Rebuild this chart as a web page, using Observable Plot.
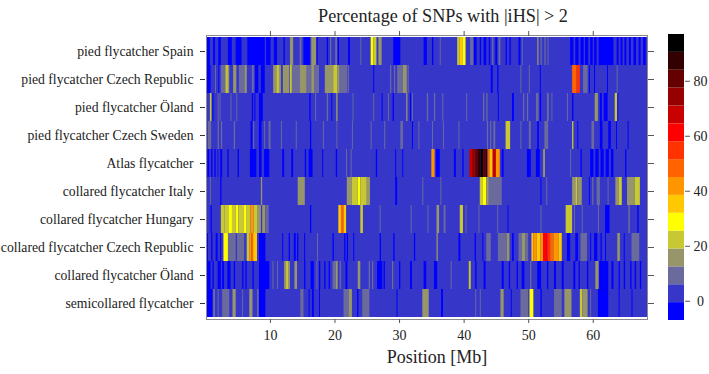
<!DOCTYPE html>
<html><head><meta charset="utf-8">
<script src="https://cdn.jsdelivr.net/npm/d3@7"></script>
<script src="https://cdn.jsdelivr.net/npm/@observablehq/plot@0.6"></script>
<style>
html,body{margin:0;padding:0;background:#fff}
#wrap{position:relative;width:709px;height:374px;overflow:hidden}
#wrap svg{position:absolute;top:0;background:transparent}
</style></head><body><div id="wrap"></div>
<script>
const rowNames = ["pied flycatcher Spain","pied flycatcher Czech Republic","pied flycatcher Öland","pied flycatcher Czech Sweden","Atlas flycatcher","collared flycatcher Italy","collared flycatcher Hungary","collared flycatcher Czech Republic","collared flycatcher Öland","semicollared flycatcher"];
const thresholds = [-0.5,6,12.5,19,25.5,32,38.5,45,51.5,58,64.5,71,77.5,84,90.5];
const palette = ["#0000ff","#3636c8","#6a6a9c","#96966a","#c8c832","#ffff00","#ffc800","#ff9600","#ff6400","#ff3200","#ff0000","#c80000","#960000","#640000","#320000","#000000"];
const legendValues = [-3,3,9,16,22,29,35,42,48,55,61,68,74,81,87,94];
const background = 3;
const xTicks = [10,20,30,40,50,60];
const legendTicks = [0,20,40,60,80];

const spain = [[0.1,0.2,-3],[0.2,0.7,-3],[1.2,1.5,-3],[2,2.4,-3],[3.5,4.1,-3],[4.7,5.6,-3],[6.5,9.2,-3],[9.4,10.1,-3],[10.6,11.1,-3],[12.1,12.3,-3],[13.1,13.6,16],[14.6,14.9,9],[15.2,16.2,-3],[16.4,17.2,16],[17.2,17.4,-3],[18.8,19,-3],[19.3,19.5,9],[20.1,20.4,9],[20.5,20.7,-3],[22.1,22.4,-3],[24,24.15,9],[25.6,26,29],[26,26.5,22],[26.8,27.3,16],[29.1,30.2,-3],[33.8,34.3,-3],[35.1,35.3,-3],[36.3,36.45,9],[39,39.4,22],[39.4,39.8,35],[39.8,40.3,29],[41,41.5,9],[41.6,42,-3],[42.5,42.7,-3],[43.1,43.5,-3],[43.9,44.1,-3],[44.4,44.6,9],[44.9,45.2,-3],[45.4,45.7,9],[46.5,46.7,-3],[47.1,47.3,-3],[48.5,48.8,-3],[49,49.15,9],[51.4,51.6,16],[51.9,52.1,9],[52.5,52.7,9],[53,53.15,9],[56.5,57,-3],[57.3,57.8,-3],[58.1,58.6,-3],[58.8,59.3,-3],[59.6,60,-3],[60.2,60.6,-3],[60.9,63.2,-3],[63.7,64,-3],[64.3,64.6,-3],[64.9,65.2,-3],[65.6,65.9,-3],[66.3,66.7,-3],[67.1,67.4,-3],[67.8,68.2,-3]];
const pied_czech = [[0.2,0.8,-3],[1.5,1.65,9],[2,2.15,-3],[2.4,3,9],[3,3.2,16],[3.2,3.5,22],[3.5,3.7,16],[4.3,4.8,16],[5.2,6.4,9],[6.1,6.4,16],[7.2,7.5,9],[7.7,8.2,-3],[8.6,9.2,-3],[10.5,11,16],[11,11.4,22],[11.4,11.7,16],[12,13,16],[13.1,13.4,22],[13.4,14.6,9],[14.6,15.7,16],[15.7,16.4,9],[16.4,16.9,16],[16.9,17.6,9],[18.5,19.8,16],[19.8,20.4,22],[20.4,20.8,16],[20.8,22,9],[22.1,22.25,9],[26,26.15,-3],[28.6,28.8,9],[29.2,29.4,9],[29.7,30.6,9],[30.6,31.2,16],[31.3,31.5,9],[44.2,44.5,-3],[45.2,45.4,-3],[48.8,48.95,9],[50.1,50.25,9],[51.8,51.95,-3],[56.8,57.5,48],[57.5,58,55],[58.5,59.2,9],[59.4,59.55,-3],[60.2,60.35,-3],[62.2,62.35,-3],[63.7,63.85,9]];
const pied_oland = [[0.1,0.25,-3],[0.7,0.95,22],[1.1,1.25,-3],[1.9,2.05,9],[2.2,2.35,9],[3.9,4.05,9],[4.8,4.95,9],[7.2,7.4,-3],[7.6,7.75,-3],[8.3,8.9,-3],[16.1,16.3,-3],[17,17.15,9],[18.8,19,9],[19.5,19.65,-3],[20.3,20.45,22],[22.8,22.95,9],[26,26.15,9],[27.3,27.45,-3],[28.3,28.45,9],[29,29.2,-3],[31.1,31.3,16],[31.7,31.85,-3],[32,32.15,9],[34.3,34.5,9],[35.4,35.6,9],[36.7,36.85,9],[40.4,40.55,9],[43,43.2,9],[43.5,43.7,9],[45.3,45.45,-3],[47.5,47.8,-3],[49.2,49.4,9],[49.8,50,9],[51.2,51.6,9],[51.8,52,-3],[52.9,53.2,9],[53.6,53.75,9],[56,56.15,9],[56.8,57,-3],[60.3,60.8,16],[61.1,61.4,-3],[61.7,62.3,-3],[63.4,63.8,22],[63.8,63.95,-3]];
const pied_sweden = [[0.4,0.9,9],[1.9,2.1,9],[2.4,2.6,9],[4.4,4.6,9],[7,7.3,-3],[7.4,7.55,9],[8.3,8.7,-3],[9.1,9.25,9],[9.8,10.1,9],[11.7,11.85,9],[14,14.15,9],[16.2,16.4,-3],[18.2,18.35,9],[20.3,20.45,9],[22.7,22.85,9],[25.6,25.75,9],[27.7,27.85,9],[30.2,30.6,9],[32,32.15,-3],[33,33.15,9],[35.1,35.25,9],[36.8,36.95,9],[39.2,39.35,9],[43.6,43.8,9],[44.1,44.3,9],[44.6,44.9,9],[46.5,47.2,22],[48.8,48.95,9],[50.1,50.4,9],[51.4,51.65,-3],[52.5,53.1,9],[56.8,57,22],[57.6,57.75,-3],[59.8,60.2,9],[61.1,61.5,-3],[62.4,62.8,-3],[63.6,63.75,-3],[65.4,65.55,-3]];
const atlas = [[0.3,0.6,-3],[0.9,1.1,-3],[1.4,1.6,-3],[1.9,2,-3],[2.3,2.6,-3],[3.4,3.6,-3],[5,5.2,-3],[6.9,7.9,-3],[8.3,8.7,-3],[9.1,9.9,-3],[11.9,12.2,-3],[13.3,13.6,-3],[15.4,15.6,-3],[16,16.6,-3],[18.1,18.25,-3],[20.2,20.4,-3],[21.8,21.95,9],[22.5,22.65,9],[26.4,26.6,-3],[29.4,29.55,-3],[30.5,30.65,-3],[35,35.5,42],[35.7,36.3,-3],[38.5,38.8,-3],[39.8,40,-3],[40.9,41.3,68],[41.3,41.8,74],[41.8,42.2,81],[42.2,42.6,87],[42.6,43,94],[43,43.4,81],[43.4,43.7,87],[43.7,44,48],[44,44.5,35],[44.5,45,68],[45,45.6,40],[45.9,46.2,-3],[49.8,50.4,-3],[51.2,51.8,-3],[52.3,52.6,16],[56.5,56.65,9],[58.1,58.3,-3],[59.6,60.1,-3],[60.4,60.9,-3],[61.2,61.7,-3],[62,62.5,-3],[62.8,63.2,-3],[65,65.2,-3]];
const italy = [[0.7,0.85,9],[2.3,2.5,-3],[8.6,8.8,16],[14.3,15.4,16],[21.9,22.7,16],[22.7,23.6,22],[23.6,24,29],[24,25,22],[25,25.5,16],[29.4,29.7,-3],[33.6,33.75,9],[36.4,36.55,9],[42.5,43,22],[43,43.5,29],[43.5,43.9,16],[43.9,45.9,9],[51.9,52.05,-3],[52.8,52.95,9],[56.8,57.3,16],[57.3,57.6,22],[57.6,58.3,16],[59.4,59.55,-3],[59.9,60.1,9],[60.6,61.1,9],[62.3,62.45,9],[63.5,64,16],[64,64.5,22],[65.3,66.5,16],[66.5,67.3,22]];
const hungary = [[0.8,1,-3],[2.4,3,22],[3,3.6,22],[3.6,4.7,22],[3.6,4.1,29],[4.7,5.1,29],[5.1,5.9,22],[5.9,6.4,29],[6.4,7,22],[7,7.5,42],[7.5,8,22],[8,8.6,16],[8.8,9.3,16],[9.4,9.8,9],[16.2,16.4,-3],[20.6,21,35],[21,21.4,48],[21.4,21.8,35],[24,24.4,22],[27,27.15,9],[31.8,31.95,9],[34.4,34.55,9],[35.8,36.2,16],[36.9,37.2,9],[39.4,39.9,22],[40.3,40.45,9],[42.3,42.45,9],[45.2,45.35,9],[46.8,46.95,-3],[51.9,52.05,9],[55.8,56.8,22],[57.1,57.25,9],[58.3,58.45,9],[60.8,60.95,9],[61.9,62.6,-3],[65.5,65.75,9],[66.9,67.1,-3]];
const czech = [[0.1,0.4,-3],[0.9,1.1,-3],[1.6,1.9,-3],[2.3,2.45,-3],[2.8,3.5,29],[3.5,4.7,9],[4.9,6,9],[6.4,6.8,22],[6.8,7.1,42],[7.1,7.4,48],[7.4,8,35],[8.3,9.3,-3],[11.9,12.05,-3],[12.9,13.1,-3],[13.7,14,-3],[14.2,14.4,-3],[15.3,15.45,-3],[17.3,17.45,9],[19.7,19.9,-3],[21.5,21.7,-3],[21.9,22.1,-3],[22.9,23.05,-3],[27,27.2,-3],[29.1,29.3,-3],[32.3,32.5,-3],[35.8,36,16],[39.2,39.5,-3],[41.7,41.9,-3],[42.9,43.05,-3],[43.5,44.2,9],[45.3,46.7,9],[46.7,47.1,16],[47.5,47.75,-3],[48.5,49,9],[49,49.6,16],[49.6,50,9],[50.5,50.8,35],[50.8,51.3,42],[51.3,51.9,35],[51.9,52.3,42],[52.3,53,61],[53,53.4,55],[53.4,53.9,48],[53.9,54.7,42],[54.7,55.2,35],[56,56.5,-3],[57.3,57.7,-3],[58.1,59.1,9],[59.6,59.75,-3],[60.2,60.7,-3],[61.2,61.4,-3],[61.9,62.05,-3],[63.8,64.2,16],[64.8,64.95,-3],[66,67.2,9]];
const collared_oland = [[0.1,0.8,-3],[1.1,1.3,-3],[1.9,2.4,-3],[2.6,2.9,-3],[3.4,3.9,-3],[4.4,4.6,-3],[5.7,5.9,-3],[6.2,6.4,-3],[7.3,7.5,-3],[8.3,9.9,-3],[10.4,10.55,9],[11.1,11.25,9],[12.2,12.5,16],[12.5,12.9,22],[12.9,13.1,16],[13.8,14.2,16],[15.3,15.5,-3],[16.3,16.8,-3],[17.2,17.35,9],[17.6,17.8,-3],[18.4,18.6,-3],[19.1,19.3,-3],[19.7,20.2,9],[20.2,20.5,16],[20.8,21,9],[21.7,22,-3],[23.6,24,16],[25.3,25.5,9],[25.8,26,9],[26.6,27.4,-3],[27.6,27.8,-3],[28.9,29.1,9],[30,30.2,-3],[31.7,32,-3],[33.8,34.2,-3],[35.4,35.9,-3],[38,38.15,9],[40.8,41.1,22],[41.8,42,-3],[43.1,43.4,-3],[45.9,46.2,-3],[47,47.2,-3],[48.2,48.4,-3],[49,49.4,-3],[50.3,50.5,9],[51.4,52,-3],[52.9,53.1,-3],[54,54.3,-3],[55.2,55.5,-3],[57,57.3,-3],[57.8,58,-3],[59.1,59.3,-3],[60.4,60.9,16],[61,62.4,-3],[62.9,63.2,-3],[64,64.2,-3],[64.8,65,-3],[65.8,66,-3],[66.5,66.7,-3],[67.3,67.5,-3]];
const semicollared = [[0.1,1.1,-3],[1.2,1.5,9],[1.9,2.05,9],[2.6,3.7,9],[4.2,4.7,16],[5.7,5.85,9],[6.8,7.3,16],[8,8.25,9],[8.3,9.3,-3],[14.7,15.2,9],[16,16.15,-3],[16.5,16.8,-3],[17.6,17.75,-3],[21.4,22.2,9],[22.2,22.7,16],[23.5,23.7,-3],[24.3,25.4,9],[29.6,29.75,-3],[33.6,34.6,16],[36.5,36.8,-3],[41.8,41.95,9],[42.5,42.65,9],[45.7,46.2,16],[47.3,47.45,-3],[48.8,50,9],[50.2,50.8,29],[51.9,52.1,-3],[54,55.2,9],[55.6,56.7,16],[58,58.4,22],[58.4,59.2,16],[59.6,59.75,9],[60.8,62.4,-3],[64,64.15,-3],[66,66.15,-3]];

const rowData = [spain,pied_czech,pied_oland,pied_sweden,atlas,italy,hungary,czech,collared_oland,semicollared];
const cells = [];
rowData.forEach((segs,i)=>{
  cells.push({row:rowNames[i],start:0.1,end:68.4,value:background});
  segs.forEach(([start,end,value])=>cells.push({row:rowNames[i],start,end,value}));
});
const color = {type:"threshold",domain:thresholds,range:palette};
const serif = "'Liberation Serif','Times New Roman',serif";
const noLabel = () => "";

const main = Plot.plot({
  width:709,height:374,marginLeft:206,marginRight:62,marginTop:37,marginBottom:57,
  style:{fontFamily:serif,fontSize:"14px",color:"#222",background:"transparent"},
  x:{domain:[0.1,68.4]},
  y:{domain:rowNames,padding:0},
  color,
  marks:[
    Plot.barX(cells,{x1:"start",x2:"end",y:"row",fill:"value",imageFilter:"blur(0.45px)"}),
    Plot.frame({stroke:"#8a8a8a",strokeWidth:1,insetTop:-2,insetBottom:-2}),
    Plot.axisX({anchor:"bottom",ticks:xTicks,tickSize:4,tickPadding:7,dy:2,stroke:"#555",fontSize:14,label:null}),
    Plot.axisX({anchor:"top",ticks:xTicks,tickSize:5,tickFormat:noLabel,dy:-2,stroke:"#555",label:null}),
    Plot.axisY({anchor:"left",tickSize:5,tickPadding:7,stroke:"#333",label:null,fontSize:13.7,dx:-1}),
    Plot.axisY({anchor:"right",tickSize:6,tickFormat:noLabel,stroke:"#555",label:null}),
    Plot.text(["Percentage of SNPs with |iHS| > 2"],{frameAnchor:"top",dx:16,dy:-28,fontSize:18.2,fill:"#222"}),
    Plot.text(["Position [Mb]"],{frameAnchor:"bottom",dx:10,dy:45,fontSize:18,fill:"#222"})
  ]
});

const legend = Plot.plot({
  width:69,height:374,marginLeft:28,marginRight:25,marginTop:34,marginBottom:54,
  style:{fontFamily:serif,fontSize:"14px",color:"#222",background:"transparent"},
  x:{domain:[0,1],axis:null},
  y:{domain:[-7,97]},
  color,
  marks:[
    Plot.rect(legendValues,{x1:0,x2:1,y1:(d,i)=>i==0?-7:thresholds[i-1],y2:(d,i)=>i==15?97:thresholds[i],fill:d=>d}),
    Plot.axisY({anchor:"right",ticks:legendTicks,tickSize:5,tickPadding:11,stroke:"#555",label:null,fontSize:14,textAnchor:"middle"})
  ]
});
legend.style.left="640px";
main.style.left="0";
const w=document.getElementById("wrap");
w.appendChild(main);w.appendChild(legend);
</script></body></html>
